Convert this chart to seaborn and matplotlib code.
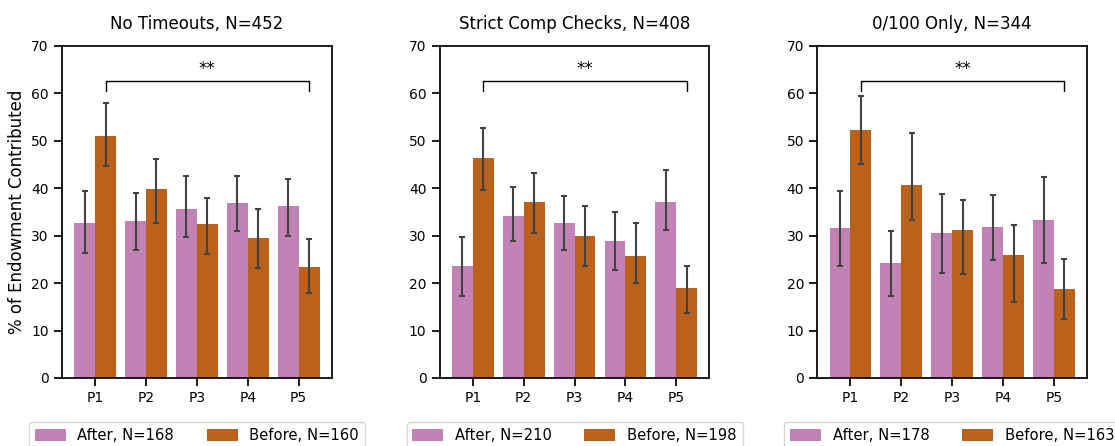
import pandas as pd
import matplotlib
matplotlib.use("Agg")
import matplotlib.pyplot as plt
import seaborn as sns

periods = ["P1", "P2", "P3", "P4", "P5"]
titles = ["No Timeouts, N=452", "Strict Comp Checks, N=408", "0/100 Only, N=344"]
after_labels = ["After, N=168", "After, N=210", "After, N=178"]
before_labels = ["Before, N=160", "Before, N=198", "Before, N=163"]

# means and CI bounds, one list per panel
after_mean = [
    [32.6, 33.1, 35.7, 36.8, 36.2],
    [23.6, 34.1, 32.6, 28.8, 37.1],
    [31.6, 24.2, 30.5, 31.8, 33.3],
]
after_lo = [
    [26.3, 27.0, 29.8, 31.0, 30.0],
    [17.2, 28.8, 27.0, 22.8, 31.1],
    [23.6, 17.2, 22.1, 24.9, 24.2],
]
after_hi = [
    [39.5, 39.1, 42.6, 42.6, 42.0],
    [29.8, 40.2, 38.3, 35.0, 43.8],
    [39.4, 31.0, 38.8, 38.6, 42.4],
]
before_mean = [
    [51.0, 39.8, 32.4, 29.5, 23.3],
    [46.4, 37.1, 30.0, 25.8, 18.9],
    [52.3, 40.7, 31.2, 25.9, 18.7],
]
before_lo = [
    [44.7, 32.6, 26.1, 23.1, 17.9],
    [39.6, 30.5, 23.7, 20.1, 13.6],
    [45.1, 33.2, 21.9, 16.0, 12.5],
]
before_hi = [
    [58.0, 46.2, 37.9, 35.6, 29.3],
    [52.8, 43.2, 36.2, 32.6, 23.6],
    [59.4, 51.7, 37.5, 32.2, 25.0],
]

sns.set_theme(style="ticks", context="notebook", rc={
    "text.color": "black", "axes.labelcolor": "black",
    "axes.edgecolor": "black", "xtick.color": "black", "ytick.color": "black",
})
plt.rcParams["font.family"] = ["DejaVu Sans"]
pal = sns.color_palette("colorblind")
colors = [pal[4], pal[3]]

fig, axes = plt.subplots(1, 3, figsize=(11.15, 4.46), dpi=100)
fig.subplots_adjust(left=0.0556, right=0.975, top=0.897, bottom=0.1525, wspace=0.4)

for i, ax in enumerate(axes):
    df = pd.DataFrame({
        "period": periods * 2,
        "value": after_mean[i] + before_mean[i],
        "group": [after_labels[i]] * 5 + [before_labels[i]] * 5,
        "lo": after_lo[i] + before_lo[i],
        "hi": after_hi[i] + before_hi[i],
    })
    sns.barplot(data=df, x="period", y="value", hue="group",
                hue_order=[after_labels[i], before_labels[i]],
                palette=colors, errorbar=None, width=0.82, linewidth=0, ax=ax)

    # asymmetric CIs on top of the bars
    for cont, lab in zip(ax.containers, [after_labels[i], before_labels[i]]):
        sub = df[df["group"] == lab]
        xs = [b.get_x() + b.get_width() / 2 for b in cont]
        ax.errorbar(xs, sub["value"],
                    yerr=[sub["value"] - sub["lo"], sub["hi"] - sub["value"]],
                    fmt="none", ecolor="#424242", elinewidth=1.5,
                    capsize=2.5, capthick=1.5)

    # significance bracket between P1 and P5 "Before" bars
    bars = ax.containers[1]
    x1 = bars[0].get_x() + bars[0].get_width() / 2
    x2 = bars[4].get_x() + bars[4].get_width() / 2
    ax.plot([x1, x1, x2, x2], [60.4, 62.6, 62.6, 60.4], color="black", lw=1.0)
    ax.text((x1 + x2) / 2, 63.3, "**", ha="center", va="bottom", fontsize=12)

    ax.set_ylim(0, 70)
    ax.set_yticks(range(0, 71, 10))
    ax.set_xlim(-0.65, 4.65)
    ax.set_xlabel("")
    ax.set_ylabel("% of Endowment Contributed" if i == 0 else "", fontsize=12)
    ax.set_title(titles[i], fontsize=12, pad=12.5)
    ax.tick_params(labelsize=10)
    ax.legend(loc="upper center", bbox_to_anchor=(0.5, -0.133), ncol=2,
              fontsize=10.6, borderaxespad=0, handlelength=2.1,
              handleheight=0.85, columnspacing=2.2, frameon=True)

plt.savefig("out.png", dpi=100)
